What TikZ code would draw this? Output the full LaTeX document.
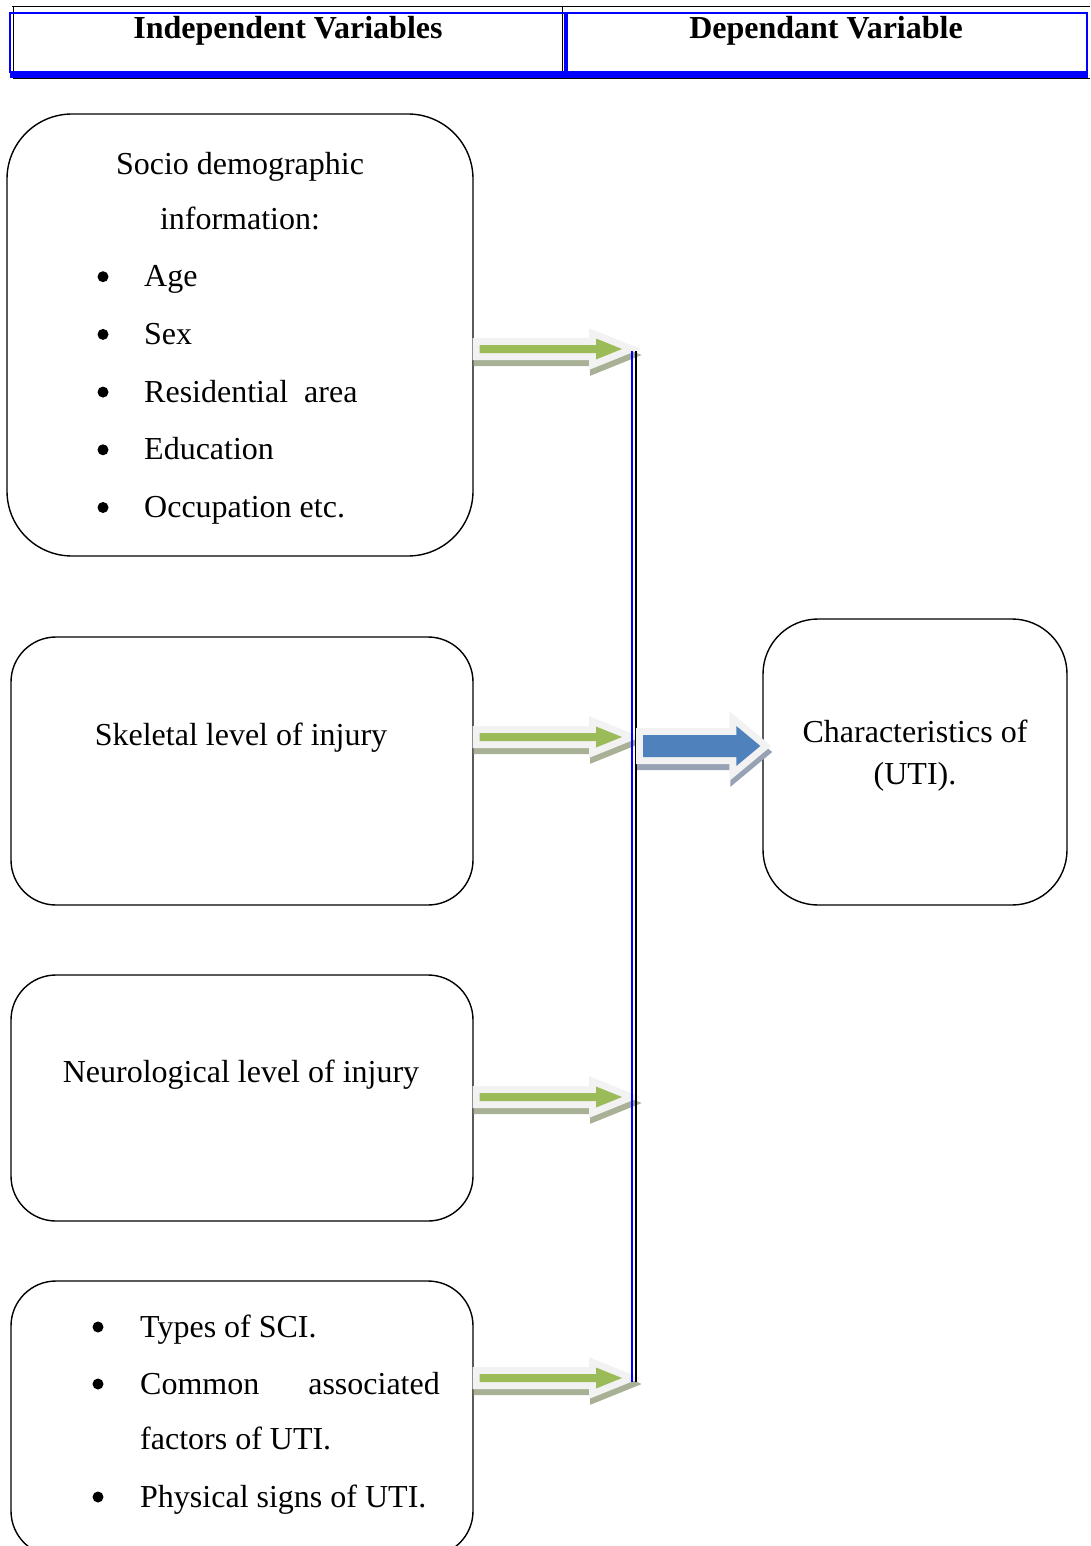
\documentclass[tikz,border=0pt]{standalone}
\usepackage{fontspec}
\setmainfont{Liberation Serif}
\usetikzlibrary{calc}

\definecolor{arrowgreen}{HTML}{9BBB59}
\definecolor{arrowblue}{HTML}{4F81BD}
\definecolor{halo}{HTML}{F2F2F2}
\definecolor{gshadow}{HTML}{A8B196}
\definecolor{bshadow}{HTML}{97A3B4}
\definecolor{hdrblue}{HTML}{0000FF}

\tikzset{
	varbox/.style={draw, line width=1.4pt, rounded corners=#1},
	txt/.style={inner sep=0pt, anchor=base},
	item/.style={inner sep=0pt, anchor=base west},
	dot/.style={circle, fill, inner sep=0pt, minimum size=11pt, yshift=10pt},
}

% one block arrow outline, from #2 to tip #3
\newcommand{\arrowshape}[6]{%
	\path[#1] let \p1=(#2), \p2=(#3) in
		(\x1,\y1+#4) -- (\x2-#6,\y1+#4) -- (\x2-#6,\y1+#5) -- (\x2,\y1)
		-- (\x2-#6,\y1-#5) -- (\x2-#6,\y1-#4) -- (\x1,\y1-#4) -- cycle;}
% fill, shadow, from, to, shaft half, head half, head length
\newcommand{\blockarrow}[7]{%
	\arrowshape{fill=#2, draw=#2, line width=14pt, line join=miter}{[xshift=1pt,yshift=-6pt]#3}{[xshift=1pt,yshift=-6pt]#4}{#5}{#6}{#7}
	\arrowshape{fill=halo, draw=halo, line width=14pt, line join=miter}{#3}{#4}{#5}{#6}{#7}
	\arrowshape{fill=#1}{#3}{#4}{#5}{#6}{#7}}

\begin{document}
\begin{tikzpicture}[x=1pt, y=-1pt, font=\fontsize{32}{57}\selectfont]
	\useasboundingbox (0,0) rectangle (1090,1546);
	
	%header
	\draw[line width=1pt] (12,7) -- (1090,7);
	\draw[line width=1pt] (13,7) -- (13,79) -- (1090,79);
	\draw[line width=1pt] (562,7) -- (562,72);
	\draw[hdrblue, line width=1.6pt] (10,13) rectangle (1087,72);
	\draw[hdrblue, line width=7pt] (10,74.5) -- (1088,74.5);
	\draw[hdrblue, line width=4pt] (566,13) -- (566,72);
	\node[txt, font=\fontsize{32}{57}\selectfont\bfseries] (hindep) at (288,39){Independent Variables};
	\node[txt, font=\fontsize{32}{57}\selectfont\bfseries] (hdep) at (826,39){Dependant Variable};
	
	%boxes
	\node[varbox=65pt, minimum width=466pt, minimum height=442pt] (socio) at (240,335){};
	\node[varbox=45pt, minimum width=462pt, minimum height=268pt] (skeletal) at (242,771){};
	\node[varbox=45pt, minimum width=462pt, minimum height=246pt] (neuro) at (242,1098){};
	\node[varbox=45pt, minimum width=462pt, minimum height=275pt] (types) at (242,1418.5){};
	\node[varbox=55pt, minimum width=304pt, minimum height=286pt] (uti) at (915,762){};
	
	%box texts
	\node[txt] (socioA) at (240,175){Socio demographic};
	\node[txt] (socioB) at (240,230){information:};
	\foreach \t [count=\i] in {Age, Sex, Residential\ \ area, Education, Occupation etc.}{
		\node[dot] (sdot\i) at (103, 229+57.7*\i){};
		\node[item] (sitem\i) at (144, 229+57.7*\i){\t};
	}
	\node[txt] (skeltext) at (241,745){Skeletal level of injury};
	\node[txt] (neurotext) at (241,1082){Neurological level of injury};
	\node[dot] (tdot1) at (98,1337){};
	\node[item] (titem1) at (140,1337){Types of SCI.};
	\node[dot] (tdot2) at (98,1394){};
	\node[item] (titem2) at (140,1394){Common};
	\node[inner sep=0pt, anchor=base east] (titem2b) at (440,1394){associated};
	\node[item] (titem3) at (140,1449){factors of UTI.};
	\node[dot] (tdot3) at (98,1507){};
	\node[item] (titem4) at (140,1507){Physical signs of UTI.};
	\node[txt] (utiA) at (915,742){Characteristics of};
	\node[txt] (utiB) at (915,784){(UTI).};
	
	%arrows into the joining line
	\coordinate (gs1) at ([xshift=6pt]socio.east |- 0,349);
	\coordinate (gs2) at ([xshift=6pt]skeletal.east |- 0,737);
	\coordinate (gs3) at ([xshift=6pt]neuro.east |- 0,1097);
	\coordinate (gs4) at ([xshift=6pt]types.east |- 0,1378);
	\foreach \i in {1,...,4}{
		\coordinate (gt\i) at (622, 0 |- gs\i);
		\blockarrow{arrowgreen}{gshadow}{gs\i}{gt\i}{4pt}{10.5pt}{26pt}
	}
	
	%joining line
	\coordinate (ltop) at (632,351);
	\coordinate (lbot) at (632,1382);
	\draw[blue, line width=1.8pt] (ltop) -- (lbot);
	\draw[line width=1.8pt] ([xshift=4pt]ltop) -- ([xshift=4pt]lbot);
	
	%arrow to dependant variable
	\coordinate (bs) at (643,746);
	\coordinate (bt) at ([xshift=-2pt]uti.west |- bs);
	\blockarrow{arrowblue}{bshadow}{bs}{bt}{11pt}{20pt}{24pt}
\end{tikzpicture}
\end{document}
